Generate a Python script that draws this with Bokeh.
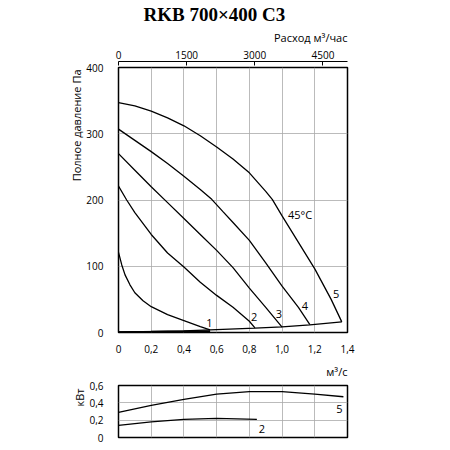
from bokeh.plotting import figure
from bokeh.models import (LinearAxis, Range1d, FixedTicker, CustomJSTickFormatter, Title, ColumnDataSource)
from bokeh.layouts import column
from bokeh.embed import file_html
from bokeh.resources import INLINE
from bokeh.core.properties import value

# ---- data ----
title_text = "RKB 700×400 C3"
x_ticks = [0, 0.2, 0.4, 0.6, 0.8, 1.0, 1.2, 1.4]
y_ticks = [0, 100, 200, 300, 400]
top_ticks = [0, 1500, 3000, 4500]
pw_ticks = [0, 0.2, 0.4, 0.6]

q1 = [0, 0.02, 0.04, 0.07, 0.1, 0.15, 0.2, 0.3, 0.4, 0.5, 0.56]
p1 = [121, 102, 87, 72, 60, 48, 39, 27, 18, 9, 4]
q2 = [0, 0.05, 0.1, 0.2, 0.3, 0.4, 0.5, 0.6, 0.7, 0.8, 0.834]
p2 = [221, 200, 181, 148, 120, 99, 76, 56, 38, 17, 7]
q3 = [0, 0.1, 0.2, 0.3, 0.4, 0.5, 0.6, 0.7, 0.8, 0.9, 1.0]
p3 = [270, 245, 220, 196, 172, 148, 124, 98, 67, 38, 8]
q4 = [0, 0.1, 0.2, 0.3, 0.4, 0.5, 0.57, 0.64, 0.7, 0.8, 0.9, 1.0, 1.1, 1.17]
p4 = [307, 290, 273, 255, 236, 216, 201, 182, 166, 139, 105, 70, 38, 12]
q5 = [0, 0.1, 0.2, 0.3, 0.4, 0.5, 0.6, 0.7, 0.8, 0.9, 0.94, 1.0, 1.1, 1.2, 1.3, 1.365]
p5 = [347, 342, 334, 324, 312, 297, 280, 262, 241, 213, 201, 176, 136, 96, 50, 16]
qs = [0, 0.2, 0.4, 0.56, 0.834, 1.0, 1.17, 1.365]
ps = [1, 1.5, 2.5, 4, 6.5, 8.5, 11.5, 16]

curve_labels = ["1", "2", "3", "4", "5", "45°C"]
label_q = [0.555, 0.83, 0.98, 1.14, 1.33, 1.11]
label_p = [14, 24, 28, 40, 58, 178]

wq5 = [0, 0.2, 0.4, 0.6, 0.8, 1.0, 1.2, 1.375]
w5 = [0.29, 0.37, 0.44, 0.50, 0.53, 0.53, 0.50, 0.47]
wq2 = [0, 0.2, 0.4, 0.6, 0.846]
w2 = [0.14, 0.18, 0.21, 0.22, 0.21]
pw_labels = ["5", "2"]
pw_label_q = [1.35, 0.876]
pw_label_w = [0.33, 0.10]

FONT = "Open Sans"
TICK_FS = "10px"
GRID = "#aaaaaa"
fmt = CustomJSTickFormatter(code="return tick == 0 ? '0' : tick.toFixed(1).replace('.', ',');")

# ---- main figure ----
p = figure(width=430, height=355, output_backend="svg", toolbar_location=None,
           x_range=Range1d(0, 1.4), y_range=Range1d(0, 400))
p.min_border_left = 118
p.min_border_right = 83
p.min_border_top = 67
p.min_border_bottom = 21
p.outline_line_color = "black"
p.outline_line_width = 1.5

p.xaxis.ticker = FixedTicker(ticks=x_ticks)
p.xaxis.formatter = fmt
p.yaxis.ticker = FixedTicker(ticks=y_ticks)
for ax in (p.xaxis[0], p.yaxis[0]):
    ax.axis_line_color = None
    ax.major_tick_line_color = None
    ax.minor_tick_line_color = None
    ax.major_label_text_font = FONT
    ax.major_label_text_font_size = TICK_FS
    ax.major_label_text_color = "black"
p.xaxis.major_label_standoff = 6
p.yaxis.major_label_standoff = 9

p.xgrid.ticker = FixedTicker(ticks=x_ticks)
p.ygrid.ticker = FixedTicker(ticks=y_ticks)
p.grid.grid_line_color = GRID
p.grid.grid_line_width = 0.8

p.extra_x_ranges = {"h": Range1d(0, 5040)}
spacer = LinearAxis(x_range_name="h", ticker=FixedTicker(ticks=[0]), axis_line_color=None,
                    major_tick_line_color=None, minor_tick_line_color=None,
                    major_tick_out=6, major_tick_in=0, major_label_standoff=0,
                    major_label_text_font_size="1px", major_label_text_alpha=0)
p.add_layout(spacer, "above")
top = LinearAxis(x_range_name="h", ticker=FixedTicker(ticks=top_ticks),
                 axis_line_color="black", axis_line_width=1.0,
                 major_tick_line_color="black", major_tick_out=0, major_tick_in=4,
                 minor_tick_line_color=None, major_label_standoff=3,
                 major_label_text_font=FONT, major_label_text_font_size=TICK_FS,
                 major_label_text_color="black")
p.add_layout(top, "above")
p.add_layout(Title(text="Расход м³/час", align="right", text_font=FONT, text_font_size="11px",
                   text_font_style="normal", text_color="black", standoff=6), "above")
p.title.text = title_text
p.title.align = "left"
p.title.offset = 25
p.title.text_font = "Liberation Serif"
p.title.text_font_style = "bold"
p.title.text_font_size = "19px"
p.title.text_color = "black"
p.title.standoff = 0

p.add_layout(Title(text="Полное давление Па", align="right", text_font=FONT, text_font_size="11px",
                   text_font_style="normal", text_color="black", standoff=0, offset=2), "left")

for q, pr in [(q1, p1), (q2, p2), (q3, p3), (q4, p4), (q5, p5), (qs, ps)]:
    p.line(q, pr, line_color="black", line_width=1.3)
p.line([qs[0], qs[3]], [ps[0] - 0.5, ps[3] - 2], line_color="black", line_width=2)

src = ColumnDataSource(dict(x=label_q, y=label_p, t=curve_labels))
p.text(x="x", y="y", text="t", source=src, text_font=value(FONT), text_font_size="11px",
       text_align="center", text_baseline="middle", text_color="black")

# ---- power figure ----
w = figure(width=430, height=92, output_backend="svg", toolbar_location=None,
           x_range=Range1d(0, 1.4), y_range=Range1d(0, 0.6))
w.min_border_left = 118
w.min_border_right = 83
w.min_border_top = 29
w.min_border_bottom = 10
w.outline_line_color = "black"
w.outline_line_width = 1.5
w.xaxis.visible = False
w.yaxis.ticker = FixedTicker(ticks=pw_ticks)
w.yaxis.formatter = fmt
w.yaxis.axis_line_color = None
w.yaxis.major_tick_line_color = None
w.yaxis.minor_tick_line_color = None
w.yaxis.major_label_text_font = FONT
w.yaxis.major_label_text_font_size = TICK_FS
w.yaxis.major_label_text_color = "black"
w.yaxis.major_label_standoff = 9
w.xgrid.ticker = FixedTicker(ticks=x_ticks)
w.ygrid.ticker = FixedTicker(ticks=pw_ticks)
w.grid.grid_line_color = GRID
w.grid.grid_line_width = 0.8

w.line(wq5, w5, line_color="black", line_width=1.3)
w.line(wq2, w2, line_color="black", line_width=1.3)
src2 = ColumnDataSource(dict(x=pw_label_q, y=pw_label_w, t=pw_labels))
w.text(x="x", y="y", text="t", source=src2, text_font=value(FONT), text_font_size="11px",
       text_align="center", text_baseline="middle", text_color="black")
w.add_layout(Title(text="м³/с", align="right", text_font=FONT, text_font_size="11px",
                   text_font_style="normal", text_color="black", standoff=13), "above")
w.add_layout(Title(text="кВт", align="right", text_font=FONT, text_font_size="11px",
                   text_font_style="normal", text_color="black", standoff=0, offset=3), "left")

layout = column(p, w, spacing=0)
open("out.html", "w").write(file_html(layout, INLINE))
